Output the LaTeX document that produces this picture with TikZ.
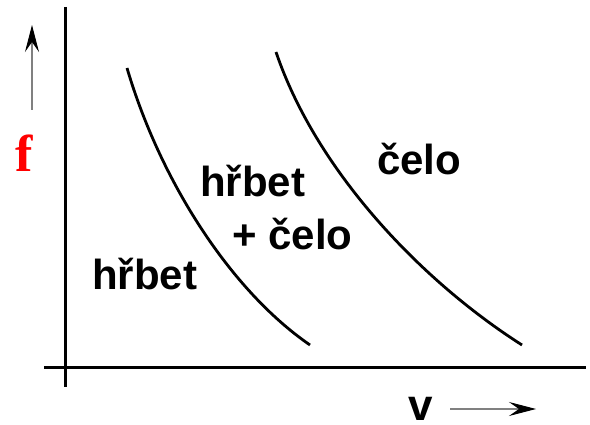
\documentclass[tikz,border=0pt]{standalone}
\usepackage{fontspec}
\setmainfont{Liberation Sans}
\newfontfamily\serifbold{Liberation Serif}
\usetikzlibrary{arrows.meta}
\begin{document}
\begin{tikzpicture}[x=1pt,y=-1pt,
  axis/.style={line width=3pt},
  curve/.style={line width=2.8pt},
  lbl/.style={anchor=base west,inner sep=0pt,font=\fontsize{42}{48}\selectfont\bfseries},
  dirarrow/.style={line width=1.8pt,draw=black!50,-{Stealth[length=27pt,width=14pt,inset=10pt,line width=1pt,black]}}]
\useasboundingbox (0,0) rectangle (590,425);
% axes
\coordinate (ytop) at (65,7);
\coordinate (ybot) at (65,387);
\coordinate (xl) at (44,367);
\coordinate (xr) at (586,367);
\draw[axis] (ytop) -- (ybot);
\draw[axis] (xl) -- (xr);
% direction arrows
\coordinate (fa0) at (32,110);
\coordinate (fa1) at (32,25);
\draw[dirarrow] (fa0) -- (fa1);
\coordinate (va0) at (450,409);
\coordinate (va1) at (536,409);
\draw[dirarrow] (va0) -- (va1);
% curves
\coordinate (c1a) at (127,68);
\coordinate (c1b) at (310,345);
\draw[curve] (c1a) .. controls (160,180) and (230,290) .. (c1b);
\coordinate (c2a) at (276,52);
\coordinate (c2b) at (522,345);
\draw[curve] (c2a) .. controls (316,170) and (420,280) .. (c2b);
% labels
\node[lbl] (h1) at (92,290) {hřbet};
\node[lbl] (h2) at (200,197) {hřbet};
\node[lbl] (hc) at (232,250) {+ čelo};
\node[lbl] (c) at (377,175) {čelo};
\node[lbl,font=\fontsize{44}{50}\selectfont\bfseries] (v) at (408,420) {v};
\node[anchor=base west,inner sep=0pt,text=red,font=\fontsize{52}{60}\selectfont\serifbold\bfseries] (f) at (15,172) {f};
\end{tikzpicture}
\end{document}
